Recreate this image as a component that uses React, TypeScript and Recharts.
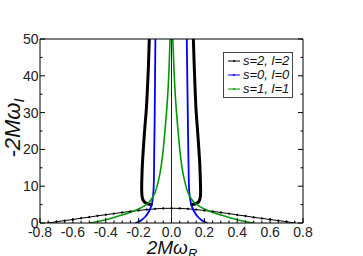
import { LineChart, Line, XAxis, YAxis, ReferenceLine, Legend } from "recharts";

type Pt = [number, number];

// s=2, l=2 : low branch crossing the axis, and the two steep branches
const s2Tent: Pt[] = [
  [-0.75, 0], [-0.7, 0.35], [-0.65, 0.65], [-0.6, 0.95], [-0.55, 1.3], [-0.5, 1.6],
  [-0.45, 1.95], [-0.4, 2.25], [-0.35, 2.55], [-0.3, 2.85], [-0.25, 3.15], [-0.2, 3.4],
  [-0.15, 3.65], [-0.1, 3.85], [-0.05, 3.97], [0, 4.0], [0.05, 3.97], [0.1, 3.85],
  [0.15, 3.65], [0.2, 3.4], [0.25, 3.15], [0.3, 2.85], [0.35, 2.55], [0.4, 2.2],
  [0.45, 1.9], [0.5, 1.55], [0.55, 1.25], [0.6, 0.95], [0.65, 0.65], [0.7, 0.35], [0.75, 0],
];
const s2Left: Pt[] = [
  [-0.115, 4.9], [-0.135, 5.1], [-0.155, 5.4], [-0.17, 6.0], [-0.178, 7], [-0.181, 8.5],
  [-0.181, 11], [-0.177, 16], [-0.17, 21], [-0.162, 26], [-0.153, 31], [-0.146, 37],
  [-0.14, 43], [-0.135, 50],
];
const s2Right: Pt[] = [
  [0.115, 4.9], [0.135, 5.1], [0.155, 5.4], [0.168, 6.0], [0.175, 7], [0.177, 8.5],
  [0.176, 11], [0.172, 16], [0.165, 21], [0.157, 26], [0.149, 31], [0.143, 37],
  [0.138, 43], [0.133, 50],
];

// s=0, l=0
const s0Left: Pt[] = [
  [-0.22, 0], [-0.2, 0.35], [-0.18, 0.9], [-0.16, 1.7], [-0.145, 2.6], [-0.132, 3.6],
  [-0.122, 4.8], [-0.115, 6.3], [-0.11, 8.5], [-0.107, 12], [-0.105, 20], [-0.102, 30],
  [-0.1, 40], [-0.098, 50],
];
const s0Right: Pt[] = [
  [0.22, 0], [0.2, 0.35], [0.18, 0.9], [0.16, 1.7], [0.145, 2.6], [0.132, 3.6],
  [0.122, 4.8], [0.114, 6.3], [0.108, 8.5], [0.105, 12], [0.102, 20], [0.099, 30],
  [0.096, 40], [0.093, 50],
];

// s=1, l=1
const s1Left: Pt[] = [
  [-0.5, 0], [-0.45, 0.4], [-0.4, 0.9], [-0.35, 1.5], [-0.3, 2.15], [-0.25, 2.9],
  [-0.2, 3.8], [-0.17, 4.5], [-0.14, 5.5], [-0.12, 6.6], [-0.1, 8.3], [-0.085, 10.5],
  [-0.07, 13.5], [-0.058, 17], [-0.048, 21], [-0.038, 26], [-0.028, 31.5], [-0.02, 37],
  [-0.014, 43], [-0.009, 50],
];
const s1Right: Pt[] = [
  [0.5, 0], [0.45, 0.4], [0.4, 0.9], [0.35, 1.5], [0.3, 2.15], [0.25, 2.9],
  [0.2, 3.8], [0.17, 4.5], [0.14, 5.5], [0.12, 6.6], [0.1, 8.3], [0.085, 10.5],
  [0.07, 13.5], [0.058, 17], [0.048, 21], [0.038, 26], [0.028, 31.5], [0.02, 37],
  [0.014, 43], [0.008, 50],
];

const seriesNames = ["s=2, l=2", "s=0, l=0", "s=1, l=1"];
const xMajor = [-0.8, -0.6, -0.4, -0.2, 0, 0.2, 0.4, 0.6, 0.8];
const yMajor = [0, 10, 20, 30, 40, 50];

const xTicks = Array.from({ length: 33 }, (_, i) => Math.round((-0.8 + i * 0.05) * 100) / 100);
const yTicks = Array.from({ length: 11 }, (_, i) => i * 5);

const FONT = "'Liberation Sans', Arial, Helvetica, sans-serif";
const BLACK = "#000000";
const BLUE = "#0000ff";
const GREEN = "#009a00";
const colors = [BLACK, BLUE, GREEN];

const rows = (pts: Pt[]) => pts.map(([x, y]) => ({ x, y }));
const isXMajor = (v: number) => xMajor.some((m) => Math.abs(m - v) < 1e-6);
const isYMajor = (v: number) => yMajor.includes(v);

const BottomTick = ({ x, y, payload }: any) => {
  const major = isXMajor(payload.value);
  return (
    <g>
      <line x1={x} x2={x} y1={y} y2={y - (major ? 5 : 2.5)} stroke={BLACK} />
      {major && (
        <text x={x} y={y + 14} textAnchor="middle" fontSize={14} fontFamily={FONT} fill="#222">
          {payload.value.toFixed(1)}
        </text>
      )}
    </g>
  );
};

const TopTick = ({ x, y, payload }: any) => {
  const major = isXMajor(payload.value);
  return <line x1={x} x2={x} y1={y} y2={y + (major ? 5 : 2.5)} stroke={BLACK} />;
};

const LeftTick = ({ x, y, payload }: any) => {
  const major = isYMajor(payload.value);
  return (
    <g>
      <line x1={x} x2={x + (major ? 5 : 2.5)} y1={y} y2={y} stroke={BLACK} />
      {major && (
        <text x={x - 1.5} y={y + 5} textAnchor="end" fontSize={14} fontFamily={FONT} fill="#222">
          {payload.value}
        </text>
      )}
    </g>
  );
};

const RightTick = ({ x, y, payload }: any) => {
  const major = isYMajor(payload.value);
  return <line x1={x} x2={x - (major ? 5 : 2.5)} y1={y} y2={y} stroke={BLACK} />;
};

const XTitle = () => (
  <text
    x={172}
    y={254}
    textAnchor="middle"
    fontSize={19}
    fontStyle="italic"
    fontFamily={FONT}
    fill="#111"
  >
    2Mω<tspan fontSize={13} dy={4}>R</tspan>
  </text>
);

const YTitle = () => (
  <text
    x={20}
    y={128}
    transform="rotate(-90, 20, 128)"
    textAnchor="middle"
    fontSize={22}
    fontStyle="italic"
    fontFamily={FONT}
    fill="#111"
  >
    -2Mω<tspan fontSize={15} dy={4}>I</tspan>
  </text>
);

const LegendBox = () => (
  <div
    style={{
      border: "1px solid #444",
      background: "#fff",
      padding: "1px 2px 1px 4px",
      width: 62,
      fontFamily: FONT,
      fontSize: 13,
      fontStyle: "italic",
      lineHeight: "14px",
      color: "#111",
      whiteSpace: "nowrap",
    }}
  >
    {seriesNames.map((name, i) => (
      <div key={name} style={{ display: "flex", alignItems: "center", height: 14 }}>
        <svg width={12} height={6} style={{ marginRight: 3, flexShrink: 0 }}>
          <line x1={0} x2={12} y1={3} y2={3} stroke={colors[i]} strokeWidth={1} />
          <circle cx={6} cy={3} r={1} fill={colors[i]} />
        </svg>
        <span>{name}</span>
      </div>
    ))}
  </div>
);

export default function App() {
  return (
    <div style={{ position: "absolute", left: 0, top: 0, background: "#fff" }}>
      <LineChart
        width={363}
        height={256}
        margin={{ top: 38, right: 59, bottom: 3, left: 10 }}
      >
        <XAxis
          xAxisId="b"
          type="number"
          dataKey="x"
          domain={[-0.8, 0.8]}
          ticks={xTicks}
          interval={0}
          tickSize={0}
          tickMargin={0}
          height={30}
          allowDataOverflow
          stroke={BLACK}
          tick={(p: any) => <BottomTick {...p} />}
          label={{ content: () => <XTitle /> }}
        />
        <XAxis
          xAxisId="t"
          orientation="top"
          type="number"
          domain={[-0.8, 0.8]}
          ticks={xTicks}
          interval={0}
          tickSize={0}
          tickMargin={0}
          height={1}
          allowDataOverflow
          stroke={BLACK}
          tick={(p: any) => <TopTick {...p} />}
        />
        <YAxis
          yAxisId="l"
          type="number"
          domain={[0, 50]}
          ticks={yTicks}
          interval={0}
          tickSize={0}
          tickMargin={0}
          width={30}
          allowDataOverflow
          stroke={BLACK}
          tick={(p: any) => <LeftTick {...p} />}
          label={{ content: () => <YTitle /> }}
        />
        <YAxis
          yAxisId="r"
          orientation="right"
          type="number"
          domain={[0, 50]}
          ticks={yTicks}
          interval={0}
          tickSize={0}
          tickMargin={0}
          width={1}
          allowDataOverflow
          stroke={BLACK}
          tick={(p: any) => <RightTick {...p} />}
        />
        <ReferenceLine x={0} xAxisId="b" yAxisId="l" stroke="#222" strokeWidth={1} />

        <Line xAxisId="b" yAxisId="l" data={rows(s2Tent)} dataKey="y" type="linear"
          stroke={BLACK} strokeWidth={1} dot={{ r: 0.9, fill: BLACK, stroke: BLACK, strokeWidth: 0.5 }}
          isAnimationActive={false} legendType="none" />
        <Line xAxisId="b" yAxisId="l" data={rows(s2Left)} dataKey="y" type="natural"
          stroke={BLACK} strokeWidth={3} dot={false} isAnimationActive={false} legendType="none" />
        <Line xAxisId="b" yAxisId="l" data={rows(s2Right)} dataKey="y" type="natural"
          stroke={BLACK} strokeWidth={3} dot={false} isAnimationActive={false} legendType="none" />

        <Line xAxisId="b" yAxisId="l" data={rows(s0Left)} dataKey="y" type="natural"
          stroke={BLUE} strokeWidth={1.8} dot={false} isAnimationActive={false} legendType="none" />
        <Line xAxisId="b" yAxisId="l" data={rows(s0Right)} dataKey="y" type="natural"
          stroke={BLUE} strokeWidth={1.8} dot={false} isAnimationActive={false} legendType="none" />

        <Line xAxisId="b" yAxisId="l" data={rows(s1Left)} dataKey="y" type="natural"
          stroke={GREEN} strokeWidth={1.6} dot={false} isAnimationActive={false} legendType="none" />
        <Line xAxisId="b" yAxisId="l" data={rows(s1Right)} dataKey="y" type="natural"
          stroke={GREEN} strokeWidth={1.6} dot={false} isAnimationActive={false} legendType="none" />

        <Legend
          layout="horizontal"
          verticalAlign="middle"
          align="center"
          content={() => <LegendBox />}
          wrapperStyle={{ left: 223, top: 52, width: 70 }}
        />
      </LineChart>
    </div>
  );
}
